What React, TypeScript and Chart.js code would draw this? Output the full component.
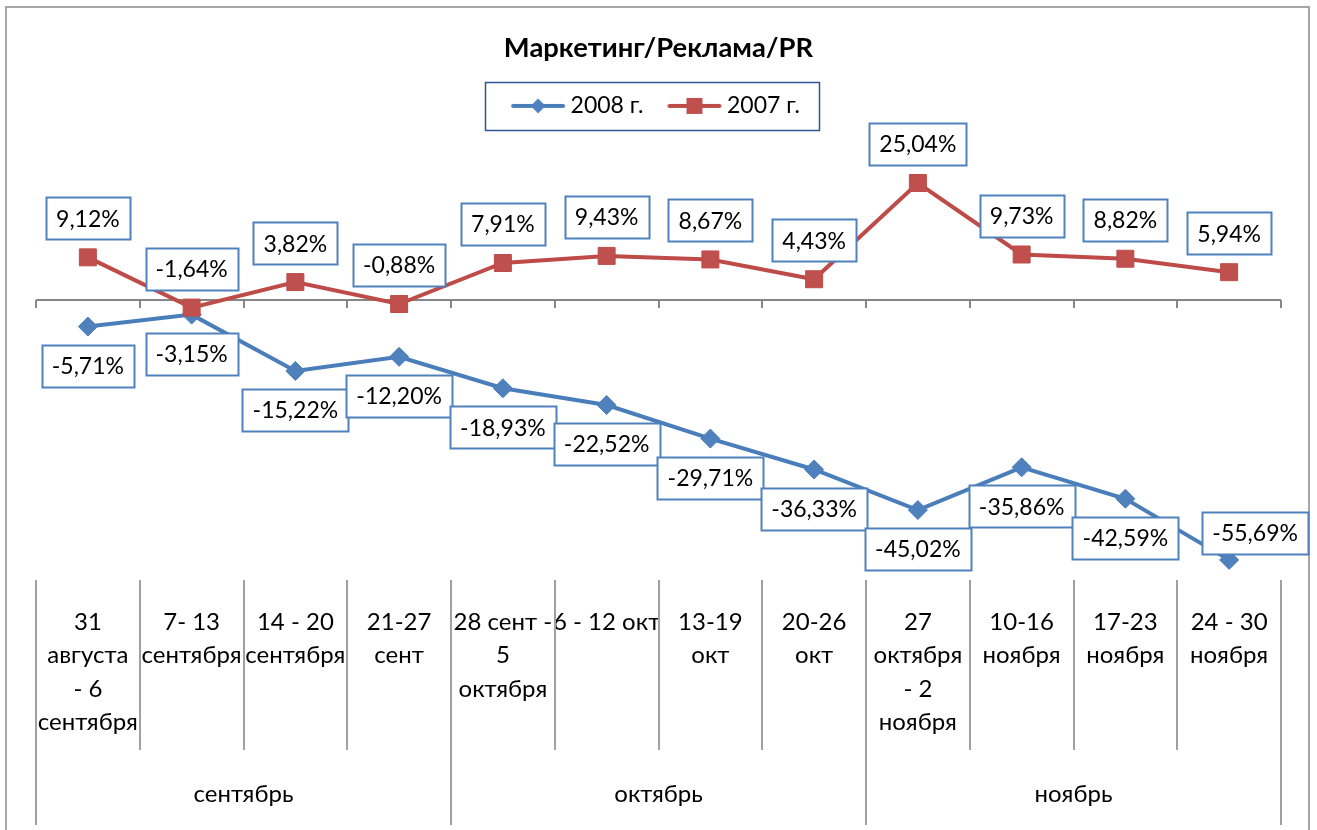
import { useEffect, useRef } from 'react';
import { Chart, registerables } from 'chart.js';

Chart.register(...registerables);

// ---------- data ----------
const weekLabels: string[][] = [
  ['31', 'августа', '- 6', 'сентября'],
  ['7- 13', 'сентября'],
  ['14 - 20', 'сентября'],
  ['21-27', 'сент'],
  ['28 сент -', '5', 'октября'],
  ['6 - 12 окт'],
  ['13-19', 'окт'],
  ['20-26', 'окт'],
  ['27', 'октября', '- 2', 'ноября'],
  ['10-16', 'ноября'],
  ['17-23', 'ноября'],
  ['24 - 30', 'ноября'],
];
const monthLabels = ['сентябрь', 'октябрь', 'ноябрь'];
const monthCenters = [1.5, 5.5, 9.5];
const monthBounds = [0, 4, 8, 12];
const seriesNames = ['2008 г.', '2007 г.'];
const series2008 = [-5.71, -3.15, -15.22, -12.2, -18.93, -22.52, -29.71, -36.33, -45.02, -35.86, -42.59, -55.69];
const series2007 = [9.12, -1.64, 3.82, -0.88, 7.91, 9.43, 8.67, 4.43, 25.04, 9.73, 8.82, 5.94];
const titleText = 'Маркетинг/Реклама/PR';

// label placement (style, not data)
const place2008 = ['below', 'below', 'below', 'below', 'below', 'below', 'below', 'below', 'below', 'below', 'below', 'aboveRight'];
const place2007 = ['above', 'above', 'above', 'above', 'above', 'above', 'above', 'above', 'above', 'above', 'above', 'above'];

const FONT = 'Lato';
const BLUE_LINE = '#4a7ebb';
const BLUE_FILL = '#4f81bd';
const RED_LINE = '#be4b48';
const RED_FILL = '#c0504d';
const LABEL_SIZE = 23;
const TICK_SIZE = 24;

const fmt = (v: number) => v.toFixed(2).replace('.', ',') + '%';

function makeIcon(line: string, fill: string, shape: 'diamond' | 'square') {
  const c = document.createElement('canvas');
  c.width = 56;
  c.height = 20;
  const g = c.getContext('2d')!;
  g.strokeStyle = line;
  g.lineWidth = 4;
  g.lineCap = 'round';
  g.beginPath();
  g.moveTo(3, 10);
  g.lineTo(53, 10);
  g.stroke();
  g.fillStyle = fill;
  g.beginPath();
  if (shape === 'diamond') {
    g.moveTo(28 - 7.5, 10);
    g.lineTo(28, 10 - 7.5);
    g.lineTo(28 + 7.5, 10);
    g.lineTo(28, 10 + 7.5);
    g.closePath();
  } else {
    g.rect(28 - 8, 10 - 8, 16, 16);
  }
  g.fill();
  return c;
}

const framePlugin = {
  id: 'frame',
  beforeDraw(chart: any) {
    const ctx = chart.ctx;
    ctx.save();
    ctx.fillStyle = '#ffffff';
    ctx.fillRect(0, 0, chart.width, chart.height);
    ctx.strokeStyle = '#a6a6a6';
    ctx.lineWidth = 2;
    ctx.beginPath();
    ctx.moveTo(6, chart.height + 4);
    ctx.lineTo(6, 7);
    ctx.lineTo(1309, 7);
    ctx.lineTo(1309, chart.height + 4);
    ctx.stroke();
    ctx.restore();
  },
};

const axisPlugin = {
  id: 'excelAxis',
  beforeDatasetsDraw(chart: any) {
    const ctx = chart.ctx;
    const x2 = chart.scales.x2;
    const xs = chart.scales.x;
    const ys = chart.scales.y;
    const area = chart.chartArea;
    const y0 = Math.round(ys.getPixelForValue(0));
    ctx.save();
    ctx.strokeStyle = '#868686';
    ctx.lineWidth = 2;
    ctx.beginPath();
    ctx.moveTo(area.left, y0);
    ctx.lineTo(area.right, y0);
    ctx.stroke();
    for (let k = 0; k <= weekLabels.length; k++) {
      const px = Math.round(x2.getPixelForValue(k - 0.5));
      ctx.beginPath();
      ctx.moveTo(px, y0);
      ctx.lineTo(px, y0 + 8);
      ctx.stroke();
    }
    ctx.strokeStyle = '#a0a0a0';
    ctx.lineWidth = 2;
    for (let k = 0; k <= weekLabels.length; k++) {
      const px = Math.round(x2.getPixelForValue(k - 0.5));
      ctx.beginPath();
      ctx.moveTo(px, area.bottom);
      ctx.lineTo(px, xs.bottom);
      ctx.stroke();
    }
    for (const b of monthBounds) {
      const px = Math.round(x2.getPixelForValue(b - 0.5));
      ctx.beginPath();
      ctx.moveTo(px, xs.bottom);
      ctx.lineTo(px, x2.bottom);
      ctx.stroke();
    }
    ctx.restore();
  },
};

const labelPlugin = {
  id: 'boxLabels',
  afterDatasetsDraw(chart: any) {
    const ctx = chart.ctx;
    const placements = [place2008, place2007];
    ctx.save();
    ctx.font = `${LABEL_SIZE}px ${FONT}`;
    chart.data.datasets.forEach((ds: any, di: number) => {
      const meta = chart.getDatasetMeta(di);
      meta.data.forEach((pt: any, i: number) => {
        const text = fmt(ds.data[i]);
        const tw = ctx.measureText(text).width;
        const bw = Math.round(tw + 20);
        const bh = 42;
        let cx = pt.x;
        let cy = pt.y;
        const p = placements[di][i];
        if (p === 'above') cy -= 39;
        else if (p === 'below') cy += 39;
        else if (p === 'aboveRight') {
          cx += 26;
          cy -= 27;
        }
        const lx = Math.round(cx - bw / 2) + 0.5;
        const ty = Math.round(cy - bh / 2) + 0.5;
        ctx.fillStyle = '#ffffff';
        ctx.fillRect(lx, ty, bw, bh);
        ctx.strokeStyle = BLUE_FILL;
        ctx.lineWidth = 2;
        ctx.strokeRect(lx, ty, bw, bh);
        ctx.fillStyle = '#000000';
        ctx.textAlign = 'center';
        ctx.textBaseline = 'middle';
        ctx.fillText(text, cx, cy + 1);
      });
    });
    ctx.restore();
  },
};

const legendBoxPlugin = {
  id: 'legendBox',
  afterDraw(chart: any) {
    const hb = chart.legend && chart.legend.legendHitBoxes;
    if (!hb || hb.length < 2) return;
    const ctx = chart.ctx;
    const first = hb[0];
    const last = hb[hb.length - 1];
    const left = Math.round(first.left - 32) + 0.5;
    const right = Math.round(last.left + last.width + 19) + 0.5;
    const cy = first.top + first.height / 2;
    const top = Math.round(cy - 24) + 0.5;
    ctx.save();
    ctx.strokeStyle = '#2f5597';
    ctx.lineWidth = 1.5;
    ctx.strokeRect(left, top, right - left, 48);
    ctx.restore();
  },
};

export default function App() {
  const ref = useRef<HTMLCanvasElement>(null);

  useEffect(() => {
    let chart: Chart | null = null;
    let cancelled = false;
    const build = () => {
      if (cancelled || !ref.current) return;
      const icon2008 = makeIcon(BLUE_LINE, BLUE_FILL, 'diamond');
      const icon2007 = makeIcon(RED_LINE, RED_FILL, 'square');
      chart = new Chart(ref.current, {
        type: 'line',
        data: {
          labels: weekLabels,
          datasets: [
            {
              label: seriesNames[0],
              data: series2008,
              xAxisID: 'x',
              yAxisID: 'y',
              order: 1,
              borderColor: BLUE_LINE,
              backgroundColor: BLUE_FILL,
              borderWidth: 4,
              tension: 0,
              pointStyle: 'rectRot',
              pointRadius: 9.5,
              pointBorderWidth: 1,
              pointBorderColor: BLUE_LINE,
              pointBackgroundColor: BLUE_FILL,
              clip: false,
            },
            {
              label: seriesNames[1],
              data: series2007,
              xAxisID: 'x',
              yAxisID: 'y',
              order: 0,
              borderColor: RED_LINE,
              backgroundColor: RED_FILL,
              borderWidth: 4,
              tension: 0,
              pointStyle: 'rect',
              pointRadius: 12,
              pointBorderWidth: 1,
              pointBorderColor: RED_LINE,
              pointBackgroundColor: RED_FILL,
              clip: false,
            },
          ],
        },
        options: {
          responsive: false,
          animation: false,
          events: [],
          layout: { padding: { top: 10, left: 36, right: 36, bottom: 5 } },
          plugins: {
            tooltip: { enabled: false },
            title: {
              display: true,
              text: titleText,
              color: '#000000',
              font: { family: FONT, size: 27.4, weight: 'bold', lineHeight: 1.2 },
              padding: { top: 21.5, bottom: 0 },
            },
            legend: {
              display: true,
              position: 'top',
              labels: {
                usePointStyle: true,
                pointStyleWidth: 42,
                padding: 30,
                color: '#000000',
                font: { family: FONT, size: LABEL_SIZE },
                generateLabels: () => [
                  {
                    text: seriesNames[0],
                    pointStyle: icon2008 as any,
                    fillStyle: BLUE_FILL,
                    strokeStyle: BLUE_LINE,
                    lineWidth: 0,
                    hidden: false,
                    datasetIndex: 0,
                    fontColor: '#000000',
                  },
                  {
                    text: seriesNames[1],
                    pointStyle: icon2007 as any,
                    fillStyle: RED_FILL,
                    strokeStyle: RED_LINE,
                    lineWidth: 0,
                    hidden: false,
                    datasetIndex: 1,
                    fontColor: '#000000',
                  },
                ],
              },
            },
          },
          scales: {
            spacer: {
              type: 'linear',
              axis: 'x',
              position: 'top',
              display: true,
              ticks: { display: false },
              grid: { display: false, drawTicks: false },
              border: { display: false },
              afterFit: (s: any) => {
                s.height = 32.5;
              },
            },
            x: {
              type: 'category',
              position: 'bottom',
              offset: true,
              weight: 0,
              grid: { display: false, drawTicks: false },
              border: { display: false },
              ticks: {
                autoSkip: false,
                maxRotation: 0,
                minRotation: 0,
                padding: 25.5,
                color: '#000000',
                font: { family: FONT, size: TICK_SIZE, lineHeight: 33.5 / TICK_SIZE },
              },
              afterFit: (s: any) => {
                s.height = 170;
              },
            },
            x2: {
              type: 'linear',
              axis: 'x',
              position: 'bottom',
              weight: 1,
              min: -0.5,
              max: weekLabels.length - 0.5,
              grid: { display: false, drawTicks: false },
              border: { display: false },
              afterBuildTicks: (s: any) => {
                s.ticks = monthCenters.map((v) => ({ value: v }));
              },
              ticks: {
                autoSkip: false,
                maxRotation: 0,
                padding: 28,
                color: '#000000',
                font: { family: FONT, size: TICK_SIZE, lineHeight: 33.5 / TICK_SIZE },
                callback: (_v: any, idx: number) => monthLabels[idx],
              },
              afterFit: (s: any) => {
                s.height = 75;
              },
            },
            y: {
              type: 'linear',
              display: false,
              min: -60,
              max: 30,
            },
          },
        } as any,
        plugins: [framePlugin, axisPlugin, labelPlugin, legendBoxPlugin],
      });
    };
    const fontsReady = (document as any).fonts
      ? Promise.all([
          (document as any).fonts.load(`22px ${FONT}`),
          (document as any).fonts.load(`bold 26px ${FONT}`),
        ]).catch(() => null)
      : Promise.resolve(null);
    fontsReady.then(build);
    return () => {
      cancelled = true;
      if (chart) chart.destroy();
    };
  }, []);

  return (
    <canvas
      ref={ref}
      width={1317}
      height={830}
      style={{ position: 'absolute', left: 0, top: 0, display: 'block' }}
    />
  );
}
